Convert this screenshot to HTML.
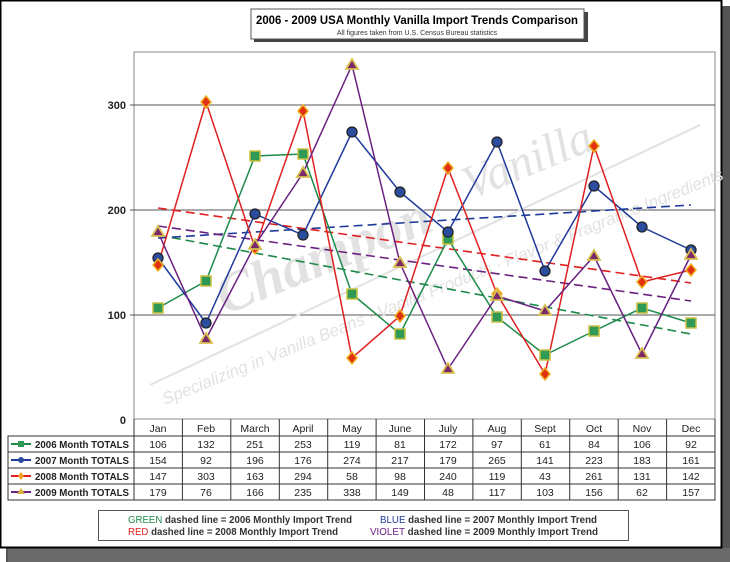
<!DOCTYPE html>
<html><head><meta charset="utf-8"><style>
html,body{margin:0;padding:0;background:#fff;}
svg{display:block;font-family:"Liberation Sans",Arial,sans-serif;}
</style></head><body>
<svg width="730" height="562" viewBox="0 0 730 562" xmlns="http://www.w3.org/2000/svg">
<rect x="0" y="0" width="730" height="562" fill="#ffffff"/>
<rect x="6" y="6" width="724" height="556" fill="#555"/>
<rect x="8" y="548" width="722" height="14" fill="#6a6a6a"/>
<rect x="0.5" y="0.5" width="721" height="547" fill="#fff" stroke="#000" stroke-width="2"/>
<!-- title -->
<rect x="254" y="12" width="334" height="30" fill="#444"/>
<rect x="251" y="9" width="333" height="30" fill="#fff" stroke="#555"/>
<text x="256" y="24" font-size="12" font-weight="bold" textLength="322" lengthAdjust="spacingAndGlyphs">2006 - 2009 USA Monthly Vanilla Import Trends Comparison</text>
<text x="417" y="35" font-size="7" text-anchor="middle" fill="#333">All figures taken from U.S. Census Bureau statistics</text>
<!-- plot area -->
<rect x="134" y="52" width="581" height="367" fill="#fff" stroke="#888"/>
<g stroke="#555" stroke-width="1">
<line x1="130" y1="105" x2="715" y2="105"/>
<line x1="130" y1="210" x2="715" y2="210"/>
<line x1="130" y1="315" x2="715" y2="315"/>
</g>
<g font-size="11" font-weight="bold" text-anchor="end" fill="#222">
<text x="126" y="109">300</text><text x="126" y="214">200</text><text x="126" y="319">100</text><text x="126" y="424">0</text>
</g>
<!-- watermark -->
<g fill="#e2e2e2" stroke="none">
<text x="0" y="0" font-size="56" font-style="italic" font-weight="bold" font-family="Liberation Serif,serif" transform="translate(225,315) rotate(-22)">Champon</text>
<text x="0" y="0" font-size="48" font-style="italic" font-family="Liberation Serif,serif" transform="translate(470,200) rotate(-22)">Vanilla</text>
<text x="0" y="0" font-size="17" font-style="italic" transform="translate(165,405) rotate(-22)">Specializing in Vanilla Beans · Vanilla Products · Flavor &amp; Fragrance Ingredients</text>
</g>
<line x1="150" y1="385" x2="700" y2="125" stroke="#e2e2e2" stroke-width="2"/>
<!-- trend lines -->
<g stroke-width="1.6" stroke-dasharray="9,5" fill="none">
<line x1="158" y1="235" x2="691" y2="334" stroke="#1e8a4a"/>
<line x1="158" y1="238" x2="691" y2="205" stroke="#1f3a9a"/>
<line x1="158" y1="208" x2="691" y2="283" stroke="#e02020"/>
<line x1="158" y1="226" x2="691" y2="301" stroke="#6a2080"/>
</g>
<!-- series -->
<g fill="none" stroke-width="1.5">
<polyline stroke="#1e8a4a" points="158,308 206,281 255,156 303,154 352,294 400,334 448,239 497,317 545,355 594,331 642,308 691,323"/>
<polyline stroke="#1f3a9a" points="158,258 206,323 255,214 303,235 352,132 400,192 448,232 497,142 545,271 594,186 642,227 691,250"/>
<polyline stroke="#e02020" points="158,265 206,102 255,248 303,111 352,358 400,316 448,168 497,294 545,374 594,146 642,282 691,270"/>
<polyline stroke="#6a2080" points="158,232 206,339 255,245 303,173 352,65 400,263 448,369 497,296 545,311 594,256 642,354 691,255"/>
</g>
<!-- markers -->
<g>
<g fill="#2e9a55" stroke="#c8c040" stroke-width="1.5">
<rect x="153" y="303" width="10" height="10"/><rect x="201" y="276" width="10" height="10"/><rect x="250" y="151" width="10" height="10"/><rect x="298" y="149" width="10" height="10"/><rect x="347" y="289" width="10" height="10"/><rect x="395" y="329" width="10" height="10"/><rect x="443" y="234" width="10" height="10"/><rect x="492" y="312" width="10" height="10"/><rect x="540" y="350" width="10" height="10"/><rect x="589" y="326" width="10" height="10"/><rect x="637" y="303" width="10" height="10"/><rect x="686" y="318" width="10" height="10"/>
</g>
<g fill="#2a4da0" stroke="#222" stroke-width="1.3">
<circle cx="158" cy="258" r="5"/><circle cx="206" cy="323" r="5"/><circle cx="255" cy="214" r="5"/><circle cx="303" cy="235" r="5"/><circle cx="352" cy="132" r="5"/><circle cx="400" cy="192" r="5"/><circle cx="448" cy="232" r="5"/><circle cx="497" cy="142" r="5"/><circle cx="545" cy="271" r="5"/><circle cx="594" cy="186" r="5"/><circle cx="642" cy="227" r="5"/><circle cx="691" cy="250" r="5"/>
</g>
<g fill="#e03010" stroke="#f0b020" stroke-width="1.5">
<path d="M158 259l5 6-5 6-5-6z"/><path d="M206 96l5 6-5 6-5-6z"/><path d="M255 242l5 6-5 6-5-6z"/><path d="M303 105l5 6-5 6-5-6z"/><path d="M352 352l5 6-5 6-5-6z"/><path d="M400 310l5 6-5 6-5-6z"/><path d="M448 162l5 6-5 6-5-6z"/><path d="M497 288l5 6-5 6-5-6z"/><path d="M545 368l5 6-5 6-5-6z"/><path d="M594 140l5 6-5 6-5-6z"/><path d="M642 276l5 6-5 6-5-6z"/><path d="M691 264l5 6-5 6-5-6z"/>
</g>
<g fill="#7a2a6a" stroke="#d8c050" stroke-width="1.8">
<path d="M158 226l6 10h-12z"/><path d="M206 333l6 10h-12z"/><path d="M255 239l6 10h-12z"/><path d="M303 167l6 10h-12z"/><path d="M352 59l6 10h-12z"/><path d="M400 257l6 10h-12z"/><path d="M448 363l6 10h-12z"/><path d="M497 290l6 10h-12z"/><path d="M545 305l6 10h-12z"/><path d="M594 250l6 10h-12z"/><path d="M642 348l6 10h-12z"/><path d="M691 249l6 10h-12z"/>
</g>
</g>
<!-- table -->
<g stroke="#333" stroke-width="1" fill="none">
<rect x="8" y="436" width="707" height="64"/>
<line x1="134" y1="419" x2="134" y2="500"/>
<line x1="8" y1="452" x2="715" y2="452"/><line x1="8" y1="468" x2="715" y2="468"/><line x1="8" y1="484" x2="715" y2="484"/>
<line x1="182.4" y1="419" x2="182.4" y2="500"/><line x1="230.8" y1="419" x2="230.8" y2="500"/><line x1="279.3" y1="419" x2="279.3" y2="500"/><line x1="327.7" y1="419" x2="327.7" y2="500"/><line x1="376.1" y1="419" x2="376.1" y2="500"/><line x1="424.5" y1="419" x2="424.5" y2="500"/><line x1="472.9" y1="419" x2="472.9" y2="500"/><line x1="521.3" y1="419" x2="521.3" y2="500"/><line x1="569.7" y1="419" x2="569.7" y2="500"/><line x1="618.2" y1="419" x2="618.2" y2="500"/><line x1="666.6" y1="419" x2="666.6" y2="500"/><line x1="715" y1="419" x2="715" y2="500"/>
</g>
<g font-size="10.5" text-anchor="middle" fill="#222">
<text x="158" y="432">Jan</text><text x="206" y="432">Feb</text><text x="255" y="432">March</text><text x="303" y="432">April</text><text x="352" y="432">May</text><text x="400" y="432">June</text><text x="448" y="432">July</text><text x="497" y="432">Aug</text><text x="545" y="432">Sept</text><text x="594" y="432">Oct</text><text x="642" y="432">Nov</text><text x="691" y="432">Dec</text>
<text x="158" y="448">106</text><text x="206" y="448">132</text><text x="255" y="448">251</text><text x="303" y="448">253</text><text x="352" y="448">119</text><text x="400" y="448">81</text><text x="448" y="448">172</text><text x="497" y="448">97</text><text x="545" y="448">61</text><text x="594" y="448">84</text><text x="642" y="448">106</text><text x="691" y="448">92</text>
<text x="158" y="464">154</text><text x="206" y="464">92</text><text x="255" y="464">196</text><text x="303" y="464">176</text><text x="352" y="464">274</text><text x="400" y="464">217</text><text x="448" y="464">179</text><text x="497" y="464">265</text><text x="545" y="464">141</text><text x="594" y="464">223</text><text x="642" y="464">183</text><text x="691" y="464">161</text>
<text x="158" y="480">147</text><text x="206" y="480">303</text><text x="255" y="480">163</text><text x="303" y="480">294</text><text x="352" y="480">58</text><text x="400" y="480">98</text><text x="448" y="480">240</text><text x="497" y="480">119</text><text x="545" y="480">43</text><text x="594" y="480">261</text><text x="642" y="480">131</text><text x="691" y="480">142</text>
<text x="158" y="496">179</text><text x="206" y="496">76</text><text x="255" y="496">166</text><text x="303" y="496">235</text><text x="352" y="496">338</text><text x="400" y="496">149</text><text x="448" y="496">48</text><text x="497" y="496">117</text><text x="545" y="496">103</text><text x="594" y="496">156</text><text x="642" y="496">62</text><text x="691" y="496">157</text>
</g>
<g font-size="10.5" font-weight="bold" fill="#222">
<text x="35" y="448" textLength="94" lengthAdjust="spacingAndGlyphs">2006 Month TOTALS</text><text x="35" y="464" textLength="94" lengthAdjust="spacingAndGlyphs">2007 Month TOTALS</text><text x="35" y="480" textLength="94" lengthAdjust="spacingAndGlyphs">2008 Month TOTALS</text><text x="35" y="496" textLength="94" lengthAdjust="spacingAndGlyphs">2009 Month TOTALS</text>
</g>
<g stroke-width="2">
<line x1="11" y1="444" x2="31" y2="444" stroke="#1e8a4a"/><rect x="18" y="441" width="6" height="6" fill="#2e9a55"/>
<line x1="11" y1="460" x2="31" y2="460" stroke="#1f3a9a"/><circle cx="21" cy="460" r="3" fill="#2a4da0"/>
<line x1="11" y1="476" x2="31" y2="476" stroke="#e02020"/><path d="M21 472l3 4-3 4-3-4z" fill="#f0a020" stroke="none"/>
<line x1="11" y1="492" x2="31" y2="492" stroke="#6a2080"/><path d="M21 488l4 6h-8z" fill="#d8b040" stroke="none"/>
</g>
<!-- legend -->
<rect x="98.5" y="510.5" width="530" height="30" fill="#fff" stroke="#555"/>
<g font-size="10" font-weight="bold" fill="#333">
<text x="128" y="523" textLength="224" lengthAdjust="spacingAndGlyphs"><tspan fill="#1e8a4a" font-weight="normal">GREEN</tspan> dashed line = 2006 Monthly Import Trend</text>
<text x="128" y="535" textLength="210" lengthAdjust="spacingAndGlyphs"><tspan fill="#e02020" font-weight="normal">RED</tspan> dashed line = 2008 Monthly Import Trend</text>
<text x="380" y="523" textLength="217" lengthAdjust="spacingAndGlyphs"><tspan fill="#1f3a9a" font-weight="normal">BLUE</tspan> dashed line = 2007 Monthly Import Trend</text>
<text x="370" y="535" textLength="228" lengthAdjust="spacingAndGlyphs"><tspan fill="#6a2080" font-weight="normal">VIOLET</tspan> dashed line = 2009 Monthly Import Trend</text>
</g>
</svg>
</body></html>
